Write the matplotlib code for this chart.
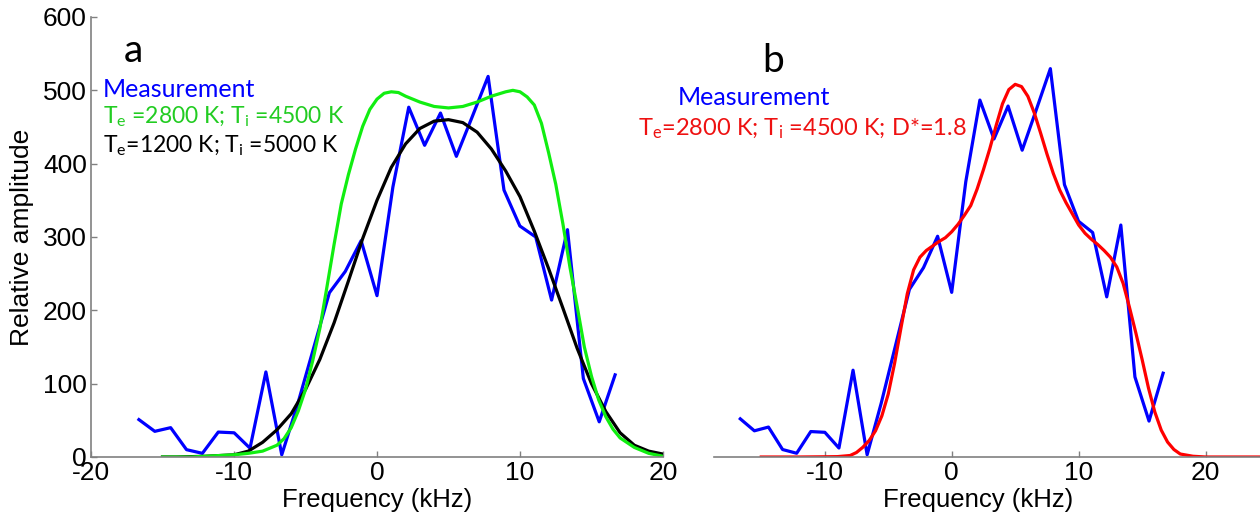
import numpy as np
import matplotlib
matplotlib.use('Agg')
import matplotlib.pyplot as plt

plt.rcParams['font.family'] = ['Liberation Sans', 'DejaVu Sans']
plt.rcParams['mathtext.default'] = 'regular'
plt.rcParams['axes.unicode_minus'] = False

# measured spectrum (kHz, relative amplitude)
freq = [-16.65, -15.54, -14.43, -13.32, -12.21, -11.10, -9.99, -8.88, -7.77, -6.66,
        -5.55, -4.44, -3.33, -2.22, -1.11, 0.00, 1.11, 2.22, 3.33, 4.44,
        5.55, 6.66, 7.77, 8.88, 9.99, 11.10, 12.21, 13.32, 14.43, 15.54, 16.65]
meas = [51, 35, 40, 10, 5, 34, 33, 12, 116, 3,
        72, 148, 224, 253, 295, 220, 368, 477, 425, 469,
        410, 464, 519, 364, 315, 300, 214, 310, 107, 48, 112]

# fit Te=2800 K, Ti=4500 K (panel a, green)
fit1_x = [-15, -14, -13, -12, -11, -10, -9, -8, -7, -6.5, -6, -5.5, -5, -4.5, -4, -3.5,
          -3, -2.5, -2, -1.5, -1, -0.5, 0, 0.5, 1, 1.5, 2, 3, 4, 5, 6, 7, 8, 9, 9.5,
          10, 10.5, 11, 11.5, 12, 12.5, 13, 13.5, 14, 14.5, 15, 15.5, 16, 16.5, 17,
          18, 19, 20]
fit1_y = [0, 0, 0, 1, 2, 3, 5, 8, 16, 25, 40, 63, 92, 131, 175, 232,
          290, 345, 385, 420, 451, 474, 488, 496, 498, 497, 492, 484, 478, 476, 478, 484, 492, 498, 500,
          498, 491, 480, 455, 415, 372, 318, 258, 205, 150, 110, 78, 55, 38, 26,
          13, 5, 1]

# fit Te=1200 K, Ti=5000 K (panel a, black)
fit2_x = [-15, -14, -13, -12, -11, -10, -9, -8, -7, -6, -5, -4, -3, -2, -1, 0, 1, 2,
          3, 4, 5, 6, 7, 8, 9, 10, 11, 12, 13, 14, 15, 16, 17, 18, 19, 20]
fit2_y = [0, 0, 0.5, 1, 2, 3, 8, 20, 37, 59, 92, 133, 183, 240, 298, 350, 395, 427,
          448, 458, 460, 456, 443, 420, 390, 355, 308, 257, 203, 148, 100, 62, 33, 16, 8, 4]

# fit Te=2800 K, Ti=4500 K, D*=1.8 (panel b, red)
fit3_x = [-15, -12, -10, -9, -8, -7.5, -7, -6.5, -6, -5.5, -5, -4.5, -4, -3.5, -3, -2.5,
          -2, -1.5, -1, -0.5, 0, 0.5, 1, 1.5, 2, 2.5, 3, 3.5, 4, 4.5, 5, 5.5, 6, 6.5,
          7, 7.5, 8, 8.5, 9, 9.5, 10, 10.5, 11, 11.5, 12, 12.5, 13, 13.5, 14, 14.5,
          15, 15.5, 16, 16.5, 17, 17.5, 18, 19, 20, 25]
fit3_y = [0, 0, 0.3, 0.5, 2, 6, 13, 22, 35, 55, 84, 125, 172, 218, 250, 267,
          276, 282, 288, 293, 301, 311, 323, 336, 358, 384, 412, 443, 472, 491, 498, 495, 482, 460,
          433, 405, 379, 357, 340, 325, 310, 299, 291, 284, 276, 267, 254, 232, 200, 166,
          130, 92, 60, 36, 20, 10, 4, 1, 0, 0]

W, H = 1260, 525
fig = plt.figure(figsize=(W / 100, H / 100), dpi=100)
gray = '#808080'
lw = 2.3
fs = 19

def style(ax):
    for s in ['top', 'right']:
        ax.spines[s].set_visible(False)
    for s in ['left', 'bottom']:
        ax.spines[s].set_color(gray)
        ax.spines[s].set_linewidth(1.2)
    ax.tick_params(direction='in', length=4, width=1, color=gray, labelsize=fs, pad=3)

# panel a
ax1 = fig.add_axes([91 / W, 68 / H, 572 / W, 440 / H])
ax1.plot(freq, meas, color='#0000ff', lw=lw, solid_joinstyle='round')
ax1.plot(fit2_x, fit2_y, color='black', lw=lw, solid_joinstyle='round')
ax1.plot(fit1_x, fit1_y, color='#11ee11', lw=lw, solid_joinstyle='round')
ax1.set_xlim(-20, 20)
ax1.set_ylim(0, 600)
ax1.set_xticks([-20, -10, 0, 10, 20])
ax1.set_yticks(range(0, 700, 100))
style(ax1)
ax1.set_xlabel('Frequency (kHz)', fontsize=18.5, labelpad=2)
ax1.set_ylabel('Relative amplitude', fontsize=19, labelpad=6)

# panel b
ax2 = fig.add_axes([714 / W, 68 / H, 546 / W, 440 / H])
ax2.plot(freq, meas, color='#0000ff', lw=lw, solid_joinstyle='round')
ax2.plot(fit3_x, fit3_y, color='#ff0000', lw=lw, solid_joinstyle='round')
ax2.set_xlim(-18.72, 24.28)
ax2.set_ylim(0, 588)
ax2.set_xticks([-10, 0, 10, 20])
ax2.set_yticks([])
style(ax2)
ax2.spines['left'].set_visible(False)
ax2.set_xlabel('Frequency (kHz)', fontsize=18.5)
ax2.xaxis.set_label_coords((978 - 714) / 546, -0.07)

def ftext(x, y, s, color, size=17):
    fig.text(x / W, 1 - y / H, s, color=color, fontsize=size, va='baseline',
             family=['Lato', 'DejaVu Sans'])

ftext(124, 62, 'a', 'black', 28)
ftext(103, 97, 'Measurement', '#0000ff', 18)
ftext(103, 123, r'T$_{e}$ =2800 K; T$_{i}$ =4500 K', '#22cc22', 16.5)
ftext(103, 152, r'T$_{e}$=1200 K; T$_{i}$ =5000 K', 'black', 16.5)

ftext(762, 72, 'b', 'black', 28)
ftext(678, 105, 'Measurement', '#0000ff', 18)
ftext(638, 135, r'T$_{e}$=2800 K; T$_{i}$ =4500 K; D*=1.8', '#ee1111', 17)

fig.savefig('out.png', dpi=100)
